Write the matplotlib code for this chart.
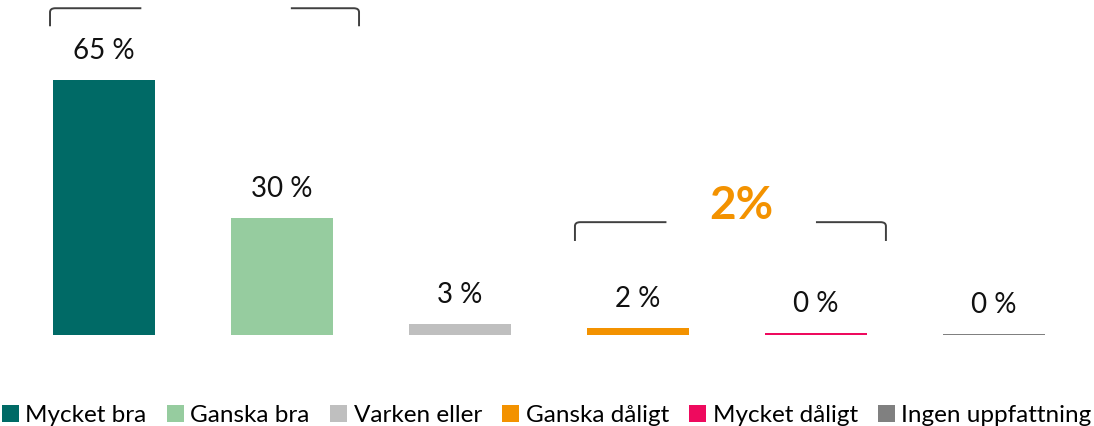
import numpy as np
import matplotlib.pyplot as plt
from matplotlib.path import Path
from matplotlib.patches import PathPatch

# ---------------------------------------------------------------------------
# data
# ---------------------------------------------------------------------------

categories = ["Mycket bra", "Ganska bra", "Varken eller",
              "Ganska dåligt", "Mycket dåligt", "Ingen uppfattning"]
values = [65.0, 29.9, 2.7, 1.8, 0.5, 0.2]
value_labels = ["65 %", "30 %", "3 %", "2 %", "0 %", "0 %"]
colors = ["#006A66", "#96CC9F", "#BFBFBF", "#F39200", "#EE0A5E", "#808080"]

# bracket groups: (first bar, last bar, summary text)
brackets = [(0, 1, ""), (3, 4, "2%")]
BRACKET_GAP = [(0.21, 1.05), (3.16, 4.0)]

plt.rcParams["font.family"] = ["Lato", "DejaVu Sans"]

fig = plt.figure(figsize=(10.94, 4.26), dpi=100)
ax = fig.add_axes([0, 0.2136, 1, 0.7864])

x = np.arange(len(categories))
bars = ax.bar(x, values, width=0.573, color=colors, label=categories)

for xi, v, lab in zip(x, values, value_labels):
    ax.text(xi, v + 7.4, lab, ha="center", va="center", fontsize=20, color="#111111")


def draw_bracket(x0, x1, y_top, y_bot, gap, r=0.03, ry=1.0):
    # left half
    verts = [(x0, y_bot), (x0, y_top - ry), (x0, y_top), (x0 + r, y_top), (gap[0], y_top)]
    codes = [Path.MOVETO, Path.LINETO, Path.CURVE3, Path.CURVE3, Path.LINETO]
    ax.add_patch(PathPatch(Path(verts, codes), fill=False, edgecolor="#404040", lw=1.4))
    # right half
    verts = [(gap[1], y_top), (x1 - r, y_top), (x1, y_top), (x1, y_top - ry), (x1, y_bot)]
    codes = [Path.MOVETO, Path.LINETO, Path.CURVE3, Path.CURVE3, Path.LINETO]
    ax.add_patch(PathPatch(Path(verts, codes), fill=False, edgecolor="#404040", lw=1.4))


# top bracket over the two positive bars
draw_bracket(-0.303, 1.433, 83.4, 78.8, BRACKET_GAP[0])
# lower bracket over the two negative bars
draw_bracket(2.646, 4.393, 28.8, 24.0, BRACKET_GAP[1])
ax.text(3.58, 33.0, brackets[1][2], ha="center", va="center",
        fontsize=33, fontweight="bold", color="#F39200")

ax.set_xlim(-0.584, 5.562)
ax.set_ylim(0, 85.5)
ax.axis("off")

fig.legend(handles=bars, labels=categories, loc="lower center", ncol=6,
           bbox_to_anchor=(0.5, -0.035), frameon=False, fontsize=17.5,
           handlelength=0.7, handleheight=0.7, handletextpad=0.25,
           columnspacing=0.85, borderaxespad=0.2)

fig.savefig("out.png", dpi=100)
